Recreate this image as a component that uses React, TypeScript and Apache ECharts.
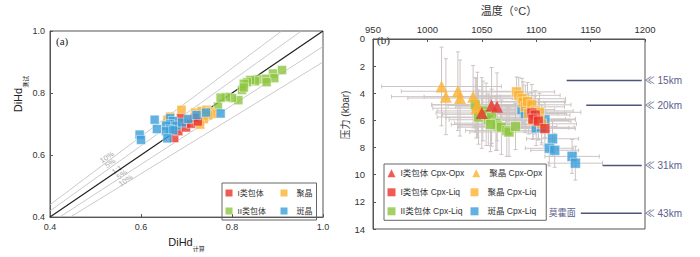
import React, { useEffect, useRef } from 'react';
import * as echarts from 'echarts';

const FONT = "'Liberation Sans', 'Noto Sans CJK SC', sans-serif";
const SERIF = "'Liberation Serif', serif";

// ---------- Panel (a): DiHd measured vs calculated ----------
const axisTicksA = [0.4, 0.6, 0.8, 1.0];
const typeIInclusion = [[0.673,0.655],[0.682,0.677],[0.699,0.689],[0.710,0.701],[0.688,0.719],[0.718,0.720],[0.725,0.708]];
const glomerocryst = [[0.689,0.746],[0.664,0.724],[0.658,0.714],[0.672,0.705],[0.686,0.709],[0.678,0.686],[0.719,0.737],[0.733,0.742],[0.744,0.746],[0.752,0.740],[0.758,0.733],[0.748,0.728],[0.738,0.716],[0.719,0.720],[0.722,0.704],[0.730,0.698],[0.700,0.712]];
const typeIIInclusion = [[0.910,0.874],[0.890,0.863],[0.893,0.848],[0.873,0.846],[0.876,0.835],[0.855,0.844],[0.851,0.838],[0.840,0.842],[0.833,0.835],[0.826,0.830],[0.822,0.810],[0.826,0.818],[0.814,0.777],[0.800,0.784],[0.787,0.787],[0.775,0.785],[0.769,0.756]];
const phenocryst = [[0.597,0.666],[0.600,0.649],[0.630,0.714],[0.635,0.684],[0.664,0.719],[0.670,0.710],[0.664,0.700],[0.655,0.695],[0.678,0.695],[0.664,0.683],[0.655,0.677],[0.671,0.680],[0.658,0.654],[0.690,0.705],[0.704,0.716],[0.722,0.729],[0.743,0.737],[0.775,0.734]];
const diagonalRatios = [1.1, 1.05, 1, 0.95, 0.9];
const diagonalLabels = ['10%', '5%', '1:1', '5%', '10%'];

// ---------- Panel (b): [T (°C), P (kbar), ±T, ±P] ----------
const opxTypeI = [[1050,5.45,42,2.6],[1059,4.9,40,2.8],[1064,5.0,38,2.5]];
const opxGlomero = [[1013,3.5,55,2.9],[1017,4.25,50,2.8],[1028,3.85,52,2.9],[1030,4.35,48,2.8],[1042,4.25,45,2.3],[1046,4.85,42,2.4],[1045,5.1,40,2.2]];
const liqTypeI = [[1096,5.45,30,1.5],[1099,5.6,32,1.4],[1097,5.9,30,1.5],[1102,6.05,30,1.4],[1108,6.6,28,1.3]];
const liqGlomero = [[1082,3.9,35,1.1],[1084,4.15,38,1.3],[1087,4.4,40,1.5],[1088,4.65,38,1.5],[1090,5.0,36,1.6],[1092,4.6,35,1.4],[1096,4.85,36,1.5],[1099,5.3,35,1.5],[1103,5.4,38,1.4],[1102,5.9,34,1.5],[1105,6.25,32,1.4],[1093,5.5,35,1.5],[1097,6.0,33,1.4]];
const liqTypeII = [[1044,4.85,40,2.0],[1051,5.3,42,2.2],[1047,5.75,38,2.0],[1054,5.55,40,2.3],[1056,5.95,36,1.9],[1059,5.8,42,2.1],[1063,6.2,38,2.0],[1064,6.4,35,1.8],[1068,6.5,40,2.0],[1073,6.75,38,1.9],[1075,6.85,36,1.8],[1081,6.45,38,1.7],[1058,6.3,36,2.0]];
const liqPheno = [[1087,5.2,30,1.4],[1090,5.5,30,1.4],[1100,6.55,30,1.3],[1105,6.5,30,1.3],[1108,5.95,28,1.3],[1115,7.35,24,1.3],[1112,8.05,22,1.3],[1117,8.2,22,1.25],[1133,8.65,25,1.25],[1136,9.15,25,1.25]];
const depthLabels = ['15km', '20km', '31km', '43km'];
const depthPressures = [3.06, 4.88, 9.33, 12.84];
const depthLineStarts = [1128, 1146, 1161, 1141];
const mohoLabel = '莫霍面';

const RED = '#e8352c', ORANGE = '#fbb12f', GREEN = '#8dc63f', BLUE = '#3b9fda';

const markerStyle = (c: string) => ({ color: c, borderColor: 'rgba(255,255,255,0.55)', borderWidth: 1 });

export default function App() {
  const ref = useRef<HTMLDivElement>(null);
  useEffect(() => {
    if (!ref.current) return;
    const chart = echarts.init(ref.current, null, { renderer: 'svg' });

    const axisCommon = {
      axisLine: { show: true, lineStyle: { color: '#555', width: 1 } },
      axisTick: { show: true, inside: true, length: 3, lineStyle: { color: '#555' } },
      splitLine: { show: false },
    };

    const diagSeries = diagonalRatios.map((r) => {
      const x0 = Math.max(0.4, 0.4 / r);
      const x1 = Math.min(1, 1 / r);
      return {
        type: 'line', xAxisIndex: 0, yAxisIndex: 0, silent: true, symbol: 'none', z: 1,
        data: [[x0, r * x0], [x1, r * x1]],
        lineStyle: r === 1 ? { color: '#222', width: 1.2 } : { color: '#bdbdbd', width: 0.8 },
      };
    });

    const errorItems = [...opxGlomero, ...opxTypeI, ...liqTypeII, ...liqPheno, ...liqGlomero, ...liqTypeI];

    const depthSeries = depthLabels.map((lab, i) => ({
      type: 'line', xAxisIndex: 1, yAxisIndex: 1, silent: true, symbol: 'none', z: 2,
      data: [[depthLineStarts[i], depthPressures[i]], [1197, depthPressures[i]]],
      lineStyle: { color: '#4e5579', width: 1.5 },
      endLabel: { show: true, formatter: '≪ ' + lab, color: '#5a6089', fontSize: 10, fontFamily: FONT, distance: 3 },
    }));

    const richName = {
      a: { fontSize: 11, color: '#222', lineHeight: 16, verticalAlign: 'top' },
      b: { fontSize: 6, color: '#222', lineHeight: 7, verticalAlign: 'bottom' },
    };

    chart.setOption({
      animation: false,
      textStyle: { fontFamily: FONT },
      grid: [
        { left: 50, right: 377, top: 31, bottom: 29, show: true, borderColor: '#555', borderWidth: 1 },
        { left: 373, right: 55, top: 32, bottom: 28, show: true, borderColor: '#555', borderWidth: 1 },
      ],
      xAxis: [
        {
          type: 'value', gridIndex: 0, min: axisTicksA[0], max: axisTicksA[3], interval: 0.2, ...axisCommon,
          axisLabel: { fontSize: 9, color: '#333', margin: 5, formatter: (v: number) => v.toFixed(1) },
          name: '{a|DiHd}{b|计算}', nameLocation: 'middle', nameGap: 15,
          nameTextStyle: { rich: richName },
        },
        {
          type: 'value', gridIndex: 1, position: 'top', min: 950, max: 1200, interval: 50, ...axisCommon,
          axisLabel: { fontSize: 9.5, color: '#333', margin: 5, formatter: (v: number) => String(v) },
          name: '温度（°C）', nameLocation: 'middle', nameGap: 23, nameTextStyle: { fontSize: 11, color: '#333' },
        },
      ],
      yAxis: [
        {
          type: 'value', gridIndex: 0, min: axisTicksA[0], max: axisTicksA[3], interval: 0.2, ...axisCommon,
          axisLabel: { fontSize: 9, color: '#333', margin: 5, formatter: (v: number) => v.toFixed(1) },
          name: '{a|DiHd}{b|测试}', nameLocation: 'middle', nameGap: 18, nameRotate: 90,
          nameTextStyle: { padding: [0, 0, 0, 60], rich: richName },
        },
        {
          type: 'value', gridIndex: 1, inverse: true, min: 0, max: 14, interval: 2, ...axisCommon,
          axisLabel: { fontSize: 9.5, color: '#333', margin: 8 },
          name: '压力 (kbar)', nameLocation: 'middle', nameGap: 22, nameRotate: 90,
          nameTextStyle: { fontSize: 10, color: '#333', padding: [0, 0, 0, 38] },
        },
      ],
      legend: [
        {
          left: 222, top: 183, width: 92, orient: 'horizontal', itemGap: 8, itemWidth: 7, itemHeight: 7,
          padding: [5, 2, 4, 3.5], borderColor: '#666', borderWidth: 1,
          itemStyle: { borderWidth: 0 },
          textStyle: { fontSize: 8, color: '#333', lineHeight: 10 },
          data: [
            { name: 'I类包体', textStyle: { width: 35 } },
            { name: '聚晶', textStyle: { width: 18, padding: [0, 0, 0, 4] } },
            { name: 'II类包体', textStyle: { width: 35 } },
            { name: '斑晶', textStyle: { width: 18, padding: [0, 0, 0, 4] } },
          ],
        },
        {
          left: 384, top: 164, width: 185, orient: 'horizontal', itemGap: 8, itemWidth: 8, itemHeight: 8,
          padding: [3.8, 1, 3.5, 3.5], borderColor: '#666', borderWidth: 1,
          itemStyle: { borderWidth: 0 },
          textStyle: { fontSize: 8.5, color: '#333', lineHeight: 11 },
          data: [
            { name: 'I类包体 Cpx-Opx', textStyle: { width: 62, overflow: 'none' } },
            { name: '聚晶 Cpx-Opx', textStyle: { width: 56, padding: [0, 0, 0, 4], overflow: 'none' } },
            { name: 'I类包体 Cpx-Liq', textStyle: { width: 62, overflow: 'none' } },
            { name: '聚晶 Cpx-Liq', textStyle: { width: 56, padding: [0, 0, 0, 4], overflow: 'none' } },
            { name: 'II类包体 Cpx-Liq', textStyle: { width: 62, overflow: 'none' } },
            { name: '斑晶 Cpx-Liq', textStyle: { width: 56, padding: [0, 0, 0, 4], overflow: 'none' } },
          ],
        },
      ],
      series: [
        ...diagSeries,
        { name: 'II类包体', type: 'scatter', xAxisIndex: 0, yAxisIndex: 0, symbol: 'rect', symbolSize: 9, itemStyle: markerStyle(GREEN), data: typeIIInclusion, z: 3 },
        { name: '聚晶', type: 'scatter', xAxisIndex: 0, yAxisIndex: 0, symbol: 'rect', symbolSize: 9, itemStyle: markerStyle(ORANGE), data: glomerocryst, z: 3 },
        { name: 'I类包体', type: 'scatter', xAxisIndex: 0, yAxisIndex: 0, symbol: 'rect', symbolSize: 9, itemStyle: markerStyle(RED), data: typeIInclusion, z: 3 },
        { name: '斑晶', type: 'scatter', xAxisIndex: 0, yAxisIndex: 0, symbol: 'rect', symbolSize: 9, itemStyle: markerStyle(BLUE), data: phenocryst, z: 3 },
        {
          type: 'custom', xAxisIndex: 1, yAxisIndex: 1, silent: true, z: 1,
          encode: { x: 0, y: 1 },
          data: errorItems,
          renderItem: (_p: any, api: any) => {
            const x = api.value(0), y = api.value(1), dx = api.value(2), dy = api.value(3);
            const l = api.coord([x - dx, y]), r = api.coord([x + dx, y]);
            const t = api.coord([x, y - dy]), b = api.coord([x, y + dy]);
            const c = 2;
            const style = { stroke: '#cdc4c4', lineWidth: 1 };
            return {
              type: 'group',
              children: [
                { type: 'line', shape: { x1: l[0], y1: l[1], x2: r[0], y2: r[1] }, style },
                { type: 'line', shape: { x1: l[0], y1: l[1] - c, x2: l[0], y2: l[1] + c }, style },
                { type: 'line', shape: { x1: r[0], y1: r[1] - c, x2: r[0], y2: r[1] + c }, style },
                { type: 'line', shape: { x1: t[0], y1: t[1], x2: b[0], y2: b[1] }, style },
                { type: 'line', shape: { x1: t[0] - c, y1: t[1], x2: t[0] + c, y2: t[1] }, style },
                { type: 'line', shape: { x1: b[0] - c, y1: b[1], x2: b[0] + c, y2: b[1] }, style },
              ],
            };
          },
        },
        { name: '斑晶 Cpx-Liq', type: 'scatter', xAxisIndex: 1, yAxisIndex: 1, symbol: 'rect', symbolSize: 10, itemStyle: markerStyle(BLUE), data: liqPheno.map((d) => [d[0], d[1]]), z: 3 },
        { name: 'II类包体 Cpx-Liq', type: 'scatter', xAxisIndex: 1, yAxisIndex: 1, symbol: 'rect', symbolSize: 10, itemStyle: markerStyle(GREEN), data: liqTypeII.map((d) => [d[0], d[1]]), z: 3 },
        { name: '聚晶 Cpx-Liq', type: 'scatter', xAxisIndex: 1, yAxisIndex: 1, symbol: 'rect', symbolSize: 10, itemStyle: markerStyle(ORANGE), data: liqGlomero.map((d) => [d[0], d[1]]), z: 3 },
        { name: 'I类包体 Cpx-Liq', type: 'scatter', xAxisIndex: 1, yAxisIndex: 1, symbol: 'rect', symbolSize: 10, itemStyle: markerStyle(RED), data: liqTypeI.map((d) => [d[0], d[1]]), z: 3 },
        { name: '聚晶 Cpx-Opx', type: 'scatter', xAxisIndex: 1, yAxisIndex: 1, symbol: 'triangle', symbolSize: 12, itemStyle: { color: ORANGE }, data: opxGlomero.map((d) => [d[0], d[1]]), z: 4 },
        { name: 'I类包体 Cpx-Opx', type: 'scatter', xAxisIndex: 1, yAxisIndex: 1, symbol: 'triangle', symbolSize: 12, itemStyle: { color: RED }, data: opxTypeI.map((d) => [d[0], d[1]]), z: 4 },
        ...depthSeries,
      ],
    });

    const p0 = chart.convertToPixel({ gridIndex: 0 }, [0.4, 0.4]) as number[];
    const p1 = chart.convertToPixel({ gridIndex: 0 }, [1, 1]) as number[];
    const angle = Math.atan2(p0[1] - p1[1], p1[0] - p0[0]);
    const labelAnchors = [[0.525, 0.593], [0.532, 0.574], [0.547, 0.553], [0.558, 0.537], [0.566, 0.518]];
    const mohoPt = chart.convertToPixel({ gridIndex: 1 }, [depthLineStarts[3], depthPressures[3]]) as number[];

    chart.setOption({
      graphic: [
        { type: 'text', x: 56, y: 35, style: { text: '(a)', fontSize: 11, fontFamily: SERIF, fill: '#222' } },
        { type: 'text', x: 377, y: 34, style: { text: '(b)', fontSize: 11, fontFamily: SERIF, fill: '#222' } },
        { type: 'text', x: mohoPt[0] - 5, y: mohoPt[1], style: { text: mohoLabel, fontSize: 9, fontFamily: FONT, fill: '#5a6089', align: 'right', verticalAlign: 'middle' } },
        ...diagonalLabels.map((t, i) => {
          const p = chart.convertToPixel({ gridIndex: 0 }, labelAnchors[i]) as number[];
          return {
            type: 'text', x: p[0], y: p[1], rotation: angle,
            style: { text: t, fontSize: 7.5, fontFamily: FONT, fill: '#aaa', align: 'center', verticalAlign: 'middle' },
          };
        }),
      ],
    });

    return () => chart.dispose();
  }, []);

  return <div ref={ref} style={{ position: 'absolute', left: 0, top: 0, width: 700, height: 257 }} />;
}
